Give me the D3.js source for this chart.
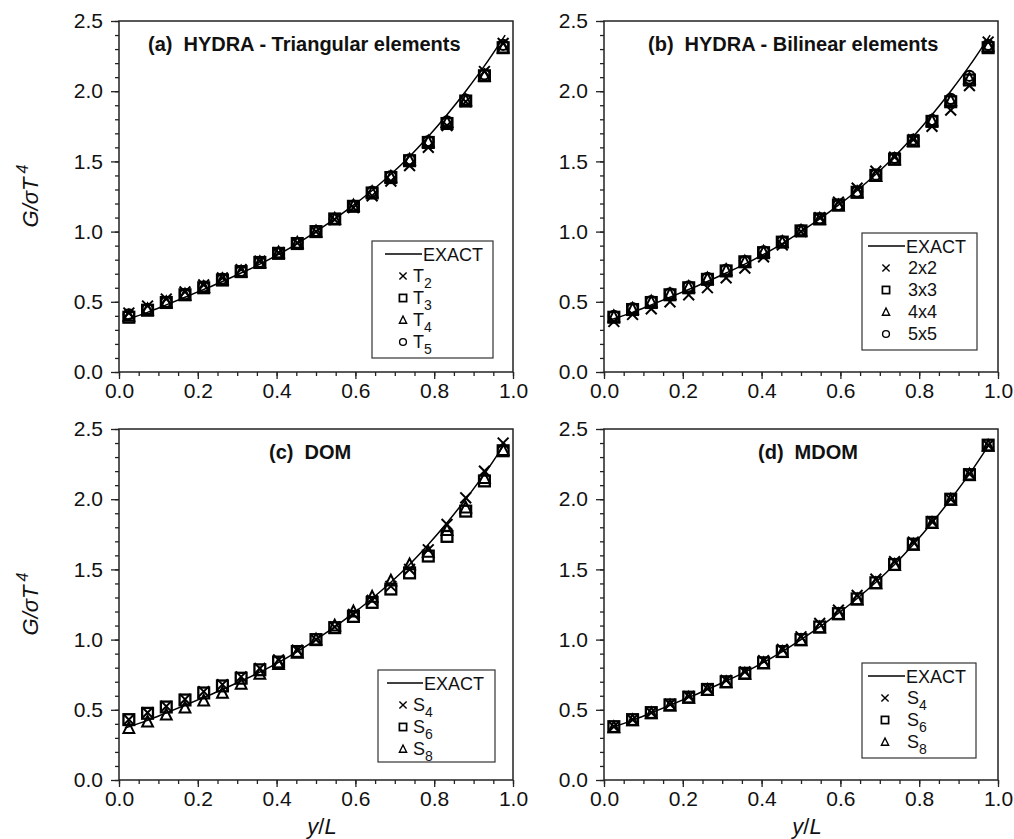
<!DOCTYPE html>
<html>
<head>
<meta charset="utf-8">
<script src="https://cdn.jsdelivr.net/npm/d3@7"></script>
<style>
  body { margin: 0; background: #fff; }
  svg { display: block; font-family: "Liberation Sans", Arial, sans-serif; }
</style>
</head>
<body>
<div id="chart"></div>
<script>
// positions along y/L where results are reported
var xPos = [0.025, 0.0725, 0.12, 0.1675, 0.215, 0.2625, 0.31, 0.3575, 0.405, 0.4525, 0.5,
            0.5475, 0.595, 0.6425, 0.69, 0.7375, 0.785, 0.8325, 0.88, 0.9275, 0.975];

// exact solution
var exactX = [0.015, 0.0725, 0.12, 0.1675, 0.215, 0.2625, 0.31, 0.3575, 0.405, 0.4525, 0.5,
              0.5475, 0.595, 0.6425, 0.69, 0.7375, 0.785, 0.8325, 0.88, 0.9275, 0.98];
var exactY = [0.37, 0.425, 0.478, 0.532, 0.588, 0.645, 0.705, 0.768, 0.838, 0.915, 1.0,
              1.09, 1.188, 1.293, 1.408, 1.535, 1.677, 1.832, 2.0, 2.18, 2.40];

// (a) HYDRA triangular
var aT2 = [0.42, 0.47, 0.52, 0.57, 0.62, 0.67, 0.73, 0.79, 0.85, 0.92, 1.0, 1.085, 1.17, 1.255, 1.36, 1.47, 1.60, 1.755, 1.925, 2.14, 2.34];
var aT3 = [0.39, 0.44, 0.495, 0.55, 0.60, 0.655, 0.715, 0.78, 0.845, 0.915, 1.0, 1.09, 1.18, 1.275, 1.385, 1.505, 1.635, 1.77, 1.93, 2.11, 2.31];
var aT4 = [0.40, 0.445, 0.495, 0.55, 0.605, 0.66, 0.715, 0.78, 0.85, 0.92, 1.0, 1.09, 1.185, 1.28, 1.39, 1.51, 1.64, 1.78, 1.935, 2.11, 2.31];
var aT5 = [0.41, 0.45, 0.50, 0.555, 0.61, 0.665, 0.72, 0.785, 0.85, 0.92, 1.005, 1.09, 1.185, 1.285, 1.395, 1.515, 1.645, 1.785, 1.94, 2.12, 2.33];

// (b) HYDRA bilinear
var b2x2 = [0.36, 0.41, 0.45, 0.50, 0.55, 0.60, 0.67, 0.74, 0.82, 0.905, 1.0, 1.10, 1.21, 1.31, 1.43, 1.53, 1.655, 1.75, 1.865, 2.04, 2.35];
var b3x3 = [0.39, 0.445, 0.495, 0.55, 0.60, 0.66, 0.72, 0.785, 0.85, 0.925, 1.005, 1.09, 1.19, 1.28, 1.40, 1.515, 1.645, 1.785, 1.925, 2.08, 2.31];
var b4x4 = [0.395, 0.45, 0.50, 0.555, 0.605, 0.665, 0.725, 0.785, 0.855, 0.925, 1.005, 1.09, 1.185, 1.28, 1.395, 1.515, 1.645, 1.79, 1.935, 2.09, 2.32];
var b5x5 = [0.40, 0.455, 0.505, 0.56, 0.61, 0.67, 0.73, 0.79, 0.86, 0.93, 1.01, 1.095, 1.19, 1.285, 1.405, 1.525, 1.655, 1.795, 1.945, 2.11, 2.33];

// (c) DOM
var cS4 = [0.43, 0.48, 0.525, 0.575, 0.63, 0.68, 0.735, 0.795, 0.855, 0.925, 1.0, 1.09, 1.18, 1.28, 1.38, 1.50, 1.64, 1.82, 2.01, 2.20, 2.40];
var cS6 = [0.43, 0.475, 0.52, 0.57, 0.62, 0.67, 0.725, 0.785, 0.84, 0.915, 1.0, 1.085, 1.165, 1.265, 1.36, 1.475, 1.595, 1.735, 1.915, 2.13, 2.345];
var cS8 = [0.37, 0.415, 0.465, 0.515, 0.565, 0.62, 0.685, 0.755, 0.825, 0.905, 1.0, 1.10, 1.20, 1.305, 1.42, 1.535, 1.625, 1.78, 1.94, 2.15, 2.35];

// (d) MDOM
var dS4 = [0.38, 0.43, 0.48, 0.54, 0.595, 0.65, 0.71, 0.77, 0.85, 0.93, 1.02, 1.115, 1.21, 1.315, 1.43, 1.555, 1.695, 1.84, 2.0, 2.18, 2.385];
var dS6 = [0.38, 0.43, 0.48, 0.535, 0.59, 0.645, 0.70, 0.76, 0.835, 0.915, 1.0, 1.09, 1.185, 1.29, 1.405, 1.535, 1.68, 1.835, 2.0, 2.175, 2.385];
var dS8 = [0.375, 0.425, 0.475, 0.53, 0.585, 0.64, 0.695, 0.755, 0.83, 0.91, 0.995, 1.085, 1.18, 1.285, 1.40, 1.53, 1.675, 1.83, 1.995, 2.175, 2.38];

var xTicks = [0.0, 0.2, 0.4, 0.6, 0.8, 1.0];
var yTicks = [0.0, 0.5, 1.0, 1.5, 2.0, 2.5];

var W = 1014, H = 839;
var svg = d3.select("#chart").append("svg").attr("width", W).attr("height", H);

// marker shapes drawn around (0,0)
function drawMarker(g, shape, s, sw) {
    if (shape == "cross") {
        g.append("path").attr("d", "M" + (-s) + "," + (-s) + "L" + s + "," + s + "M" + (-s) + "," + s + "L" + s + "," + (-s))
            .attr("stroke", "#000").attr("stroke-width", sw).attr("fill", "none");
    } else if (shape == "square") {
        g.append("rect").attr("x", -s).attr("y", -s).attr("width", 2 * s).attr("height", 2 * s)
            .attr("stroke", "#000").attr("stroke-width", sw + 0.3).attr("fill", "none");
    } else if (shape == "triangle") {
        g.append("path").attr("d", "M0," + (-s * 1.1) + "L" + s + "," + (s * 0.9) + "L" + (-s) + "," + (s * 0.9) + "Z")
            .attr("stroke", "#000").attr("stroke-width", sw).attr("fill", "none");
    } else {
        g.append("circle").attr("r", s * 0.95)
            .attr("stroke", "#000").attr("stroke-width", sw).attr("fill", "none");
    }
}

function styleTicks(a) {
    a.select(".domain").remove();
    a.selectAll("line").attr("stroke", "#222").attr("stroke-width", 1.3);
    a.selectAll("text").attr("font-size", 21).attr("fill", "#111").attr("font-family", "Liberation Sans, Arial, sans-serif");
}

function drawPanel(p) {
    var x = d3.scaleLinear().domain([0, 1]).range([p.left, p.left + 394]);
    var y = d3.scaleLinear().domain([0, 2.5]).range([p.top + 351, p.top]);
    var g = svg.append("g");

    // frame
    g.append("rect").attr("x", x(0)).attr("y", y(2.5)).attr("width", x(1) - x(0)).attr("height", y(0) - y(2.5))
        .attr("fill", "none").attr("stroke", "#222").attr("stroke-width", 1.5);

    // x axis: minor then major ticks
    g.append("g").attr("transform", "translate(0," + y(0) + ")")
        .call(d3.axisBottom(x).tickValues(d3.range(0, 1.0001, 0.05)).tickSize(4).tickFormat(""))
        .call(styleTicks);
    g.append("g").attr("transform", "translate(0," + y(0) + ")")
        .call(d3.axisBottom(x).tickValues(xTicks).tickSize(7).tickPadding(4).tickFormat(d3.format(".1f")))
        .call(styleTicks);

    // y axis
    g.append("g").attr("transform", "translate(" + x(0) + ",0)")
        .call(d3.axisLeft(y).tickValues(d3.range(0, 2.5001, 0.1)).tickSize(4).tickFormat(""))
        .call(styleTicks);
    g.append("g").attr("transform", "translate(" + x(0) + ",0)")
        .call(d3.axisLeft(y).tickValues(yTicks).tickSize(8).tickPadding(8).tickFormat(d3.format(".1f")))
        .call(styleTicks);

    // exact curve
    var line = d3.line().x(function (d, i) { return x(exactX[i]); }).y(function (d) { return y(d); })
        .curve(d3.curveCatmullRom);
    g.append("path").datum(exactY).attr("d", line).attr("fill", "none").attr("stroke", "#000").attr("stroke-width", 1.5);

    // numerical results
    p.series.forEach(function (s) {
        g.selectAll(null).data(s.values).enter().append("g")
            .attr("transform", function (d, i) { return "translate(" + x(xPos[i]) + "," + y(d) + ")"; })
            .each(function () { drawMarker(d3.select(this), s.shape, 5.4, 2); });
    });

    // title
    var t = g.append("text").attr("x", p.titleX).attr("y", p.top + 30)
        .attr("font-size", 20).attr("font-weight", "bold").attr("fill", "#111");
    t.append("tspan").text(p.tag);
    t.append("tspan").attr("dx", 11).text(p.title);

    // legend
    var L = p.legend;
    g.append("rect").attr("x", L.x).attr("y", L.y).attr("width", L.w).attr("height", L.h)
        .attr("fill", "#fff").attr("stroke", "#333").attr("stroke-width", 1.2);
    g.append("line").attr("x1", L.x + L.l1).attr("x2", L.x + L.l2).attr("y1", L.y + 13).attr("y2", L.y + 13)
        .attr("stroke", "#000").attr("stroke-width", 1.5);
    g.append("text").attr("x", L.x + L.l2 + 1).attr("y", L.y + 20).attr("font-size", 18).attr("fill", "#111").text("EXACT");
    p.series.forEach(function (s, i) {
        var cy = L.y + 35 + i * 22;
        var m = g.append("g").attr("transform", "translate(" + (L.x + L.mx) + "," + cy + ")");
        drawMarker(m, s.shape, 3.6, 1.4);
        var lt = g.append("text").attr("x", L.x + L.tx).attr("y", cy + 6).attr("font-size", 18).attr("fill", "#111");
        lt.append("tspan").text(s.name);
        if (s.sub) {
            lt.append("tspan").attr("font-size", 14).attr("dy", 6).text(s.sub);
        }
    });

    // axis titles
    if (p.yLabel) {
        var yl = g.append("text").attr("transform", "translate(38," + (p.top + 175) + ") rotate(-90)")
            .attr("text-anchor", "middle").attr("font-size", 22).attr("font-style", "italic").attr("fill", "#111");
        yl.append("tspan").text("G/σT");
        yl.append("tspan").attr("font-size", 16).attr("dy", -10).attr("dx", 4).text("4");
    }
    if (p.xLabel) {
        var xl = g.append("text").attr("x", x(0.5) + 6).attr("y", 834).attr("text-anchor", "middle")
            .attr("font-size", 22).attr("font-style", "italic").attr("fill", "#111");
        xl.append("tspan").text("y");
        xl.append("tspan").attr("font-style", "normal").text("/");
        xl.append("tspan").text("L");
    }
}

drawPanel({
    left: 119, top: 21, tag: "(a)", title: "HYDRA - Triangular elements", titleX: 148, yLabel: true,
    legend: { x: 372, y: 241, w: 121, h: 117, l1: 13, l2: 50, mx: 31, tx: 41 },
    series: [
        { name: "T", sub: "2", shape: "cross", values: aT2 },
        { name: "T", sub: "3", shape: "square", values: aT3 },
        { name: "T", sub: "4", shape: "triangle", values: aT4 },
        { name: "T", sub: "5", shape: "circle", values: aT5 }
    ]
});
drawPanel({
    left: 604, top: 21, tag: "(b)", title: "HYDRA - Bilinear elements", titleX: 648,
    legend: { x: 862, y: 233, w: 115, h: 117, l1: 6, l2: 43, mx: 24, tx: 46 },
    series: [
        { name: "2x2", shape: "cross", values: b2x2 },
        { name: "3x3", shape: "square", values: b3x3 },
        { name: "4x4", shape: "triangle", values: b4x4 },
        { name: "5x5", shape: "circle", values: b5x5 }
    ]
});
drawPanel({
    left: 119, top: 429, tag: "(c)", title: "DOM", titleX: 269, yLabel: true, xLabel: true,
    legend: { x: 378, y: 670, w: 117, h: 92, l1: 9, l2: 45, mx: 25, tx: 35 },
    series: [
        { name: "S", sub: "4", shape: "cross", values: cS4 },
        { name: "S", sub: "6", shape: "square", values: cS6 },
        { name: "S", sub: "8", shape: "triangle", values: cS8 }
    ]
});
drawPanel({
    left: 604, top: 429, tag: "(d)", title: "MDOM", titleX: 758, xLabel: true,
    legend: { x: 862, y: 663, w: 114, h: 95, l1: 6, l2: 43, mx: 23, tx: 45 },
    series: [
        { name: "S", sub: "4", shape: "cross", values: dS4 },
        { name: "S", sub: "6", shape: "square", values: dS6 },
        { name: "S", sub: "8", shape: "triangle", values: dS8 }
    ]
});
</script>
</body>
</html>
